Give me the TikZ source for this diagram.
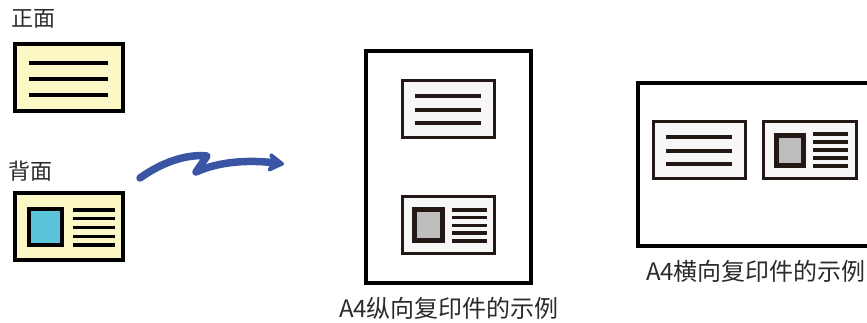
\documentclass[tikz,border=0pt]{standalone}
\usepackage{fontspec}
\newfontfamily\cjk{Noto Sans CJK SC}
\usetikzlibrary{arrows.meta}
\definecolor{ink}{HTML}{231815}
\definecolor{cardyellow}{HTML}{FBF8C6}
\definecolor{cardblue}{HTML}{5BC4DA}
\definecolor{photogray}{HTML}{BDBDBD}
\definecolor{copyfill}{HTML}{F7F7F7}
\definecolor{arrowblue}{HTML}{3A55A4}
\definecolor{textgray}{HTML}{2B2B2B}
\tikzset{
  origcard/.style={draw=black, fill=cardyellow, line width=4pt},
  origline/.style={draw=black, line width=3.2pt},
  bluephoto/.style={draw=black, fill=cardblue, line width=4pt},
  page/.style={draw=black, fill=white, line width=4pt},
  copycard/.style={draw=ink, fill=copyfill, line width=3.5pt},
  copyline/.style={draw=ink, line width=3.4pt},
  grayphoto/.style={draw=ink, fill=photogray, line width=4.5pt},
  label/.style={font=\cjk\fontsize{22}{26}\selectfont, text=textgray, inner sep=0pt},
  caption/.style={font=\cjk\fontsize{24}{28}\selectfont, text=textgray, inner sep=0pt},
}
\begin{document}
\begin{tikzpicture}[x=1pt,y=-1pt]
\useasboundingbox (0,0) rectangle (867,322);
% labels
\node[label] (front) at (33.5,19) {正面};
\node[label] (back) at (31,171) {背面};
% front card
\draw[origcard] (14.5,44) rectangle (123,111);
\foreach \y in {63,79,95} \draw[origline] (29,\y) -- (108,\y);
% back card
\draw[origcard] (14.5,193) rectangle (123,260);
\draw[bluephoto] (29,209) rectangle (62,245);
\foreach \y in {210,218.5,227.5,236.5,245} \draw[origline] (73,\y) -- (115,\y);
% arrow
\coordinate (as) at (140,178);
\coordinate (ak1) at (207,156);
\coordinate (ak2) at (196,172);
\coordinate (ae) at (284,164);
\draw[arrowblue, line width=7.5pt, line cap=round, line join=round,
  -{Stealth[length=19pt,width=23pt,inset=5pt,round]}]
  (as) .. controls (165,160) and (190,154) .. (ak1) -- (ak2)
  .. controls (220,161) and (250,160) .. (ae);
% portrait page
\draw[page] (366,51) rectangle (531,283);
\draw[copycard] (402.5,80.5) rectangle (494.5,137.5);
\foreach \y in {96,110,123} \draw[copyline] (415,\y) -- (481,\y);
\draw[copycard] (402.5,196.5) rectangle (494.5,253.5);
\draw[grayphoto] (414.5,209.5) rectangle (442.5,240.5);
\foreach \y in {210,217.5,225.5,233,241} \draw[copyline] (452,\y) -- (487,\y);
\node[caption] (plabel) at (449,308) {A4纵向复印件的示例};
% landscape page
\draw[page] (638,83) rectangle (880,246);
\draw[copycard] (653.5,121.5) rectangle (745.5,178.5);
\foreach \y in {137,151,164} \draw[copyline] (666,\y) -- (732,\y);
\draw[copycard] (763.5,121.5) rectangle (856.5,178.5);
\draw[grayphoto] (776.5,135.5) rectangle (803.5,165.5);
\foreach \y in {134,142,150,158,166} \draw[copyline] (813,\y) -- (848,\y);
\node[caption] (llabel) at (756,271) {A4横向复印件的示例};
\end{tikzpicture}
\end{document}
